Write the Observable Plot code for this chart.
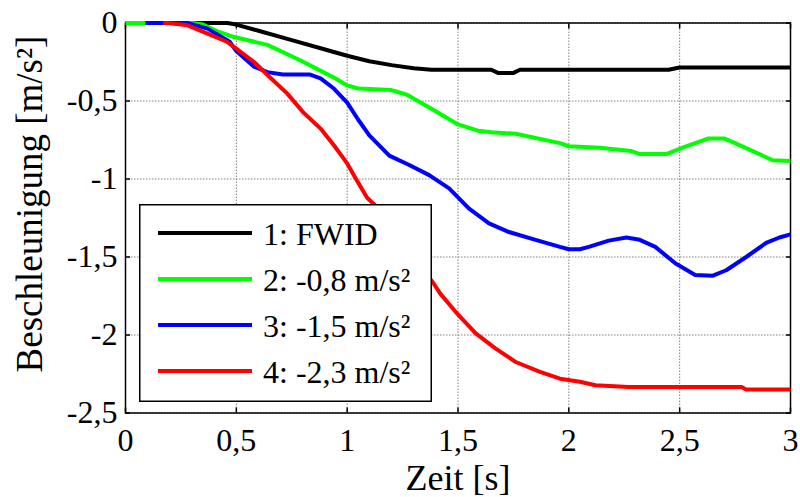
<!DOCTYPE html>
<html>
<head>
<meta charset="utf-8">
<script src="https://cdn.jsdelivr.net/npm/d3@7"></script>
<script src="https://cdn.jsdelivr.net/npm/@observablehq/plot@0.6"></script>
<style>
  body { margin: 0; background: #fff; }
  #wrap { position: relative; width: 800px; height: 497px; }
  #legend { position: absolute; left: 139px; top: 204px; }
</style>
</head>
<body>
<div id="wrap"></div>
<script>
// Tick values
const xTicks = [0, 0.5, 1, 1.5, 2, 2.5, 3];
const yTicks = [0, -0.5, -1, -1.5, -2, -2.5];

// Series labels and colours
const seriesNames = ["1: FWID", "2: -0,8 m/s²", "3: -1,5 m/s²", "4: -2,3 m/s²"];
const seriesColors = ["#000000", "#00ff00", "#0000ff", "#ff0000"];

// 1: FWID (black)
const t1 = [0, 0.46, 0.5, 0.6, 0.75, 0.9, 1.0, 1.1, 1.2, 1.3, 1.38, 1.65, 1.68, 1.75, 1.78, 2.45, 2.5, 3.0];
const a1 = [0, 0, -0.01, -0.05, -0.11, -0.17, -0.21, -0.245, -0.27, -0.29, -0.30, -0.30, -0.32, -0.32, -0.30, -0.30, -0.285, -0.285];

// 2: -0,8 m/s² (green)
const t2 = [0, 0.3, 0.35, 0.41, 0.49, 0.64, 0.79, 0.94, 1.0, 1.05, 1.2, 1.27, 1.38, 1.5, 1.59, 1.65, 1.76, 1.96, 2.0, 2.14, 2.28, 2.32, 2.44, 2.51, 2.63, 2.70, 2.75, 2.92, 3.0];
const a2 = [0, 0, -0.01, -0.05, -0.09, -0.14, -0.24, -0.35, -0.40, -0.42, -0.43, -0.46, -0.55, -0.65, -0.69, -0.70, -0.71, -0.77, -0.79, -0.80, -0.82, -0.84, -0.84, -0.80, -0.74, -0.74, -0.77, -0.88, -0.885];

// 3: -1,5 m/s² (blue)
const t3 = [0.09, 0.28, 0.37, 0.47, 0.5, 0.58, 0.64, 0.71, 0.83, 0.88, 0.94, 1.0, 1.05, 1.1, 1.19, 1.28, 1.37, 1.46, 1.55, 1.64, 1.73, 1.85, 1.96, 2.0, 2.05, 2.09, 2.18, 2.26, 2.32, 2.39, 2.48, 2.57, 2.65, 2.71, 2.80, 2.89, 2.95, 3.0];
const a3 = [0, 0, -0.036, -0.12, -0.18, -0.28, -0.315, -0.33, -0.33, -0.355, -0.42, -0.51, -0.62, -0.72, -0.85, -0.91, -0.975, -1.06, -1.19, -1.285, -1.34, -1.39, -1.435, -1.45, -1.45, -1.435, -1.395, -1.375, -1.39, -1.435, -1.54, -1.615, -1.62, -1.585, -1.50, -1.41, -1.375, -1.355];

// 4: -2,3 m/s² (red)
const t4 = [0.17, 0.19, 0.28, 0.37, 0.46, 0.5, 0.58, 0.65, 0.73, 0.8, 0.88, 0.94, 1.0, 1.04, 1.09, 1.12, 1.2, 1.3, 1.39, 1.42, 1.49, 1.58, 1.67, 1.76, 1.87, 1.96, 2.05, 2.12, 2.27, 2.78, 2.80, 3.0];
const a4 = [0, 0, -0.015, -0.068, -0.122, -0.164, -0.25, -0.346, -0.453, -0.57, -0.677, -0.784, -0.90, -1.0, -1.12, -1.16, -1.31, -1.50, -1.67, -1.735, -1.853, -1.99, -2.087, -2.173, -2.237, -2.28, -2.30, -2.322, -2.333, -2.333, -2.35, -2.35];

const times = [t1, t2, t3, t4];
const values = [a1, a2, a3, a4];
const series = times.map((ts, i) => ts.map((t, j) => ({t, a: values[i][j]})));

const fmt = d => String(d).replace(".", ",");
const font = '"Liberation Serif", "Times New Roman", serif';
const gridStyle = {stroke: "#808080", strokeOpacity: 1, strokeWidth: 1, strokeDasharray: "1.5,1.5"};

const chart = Plot.plot({
  width: 800,
  height: 497,
  marginLeft: 125,
  marginRight: 10,
  marginTop: 22.5,
  marginBottom: 84.5,
  style: {fontFamily: font, background: "white", color: "black"},
  x: {domain: [0, 3]},
  y: {domain: [-2.5, 0]},
  marks: [
    Plot.gridX(xTicks, gridStyle),
    Plot.gridY(yTicks, gridStyle),
    Plot.frame({stroke: "black", strokeWidth: 1.5}),
    Plot.axisX(xTicks, {anchor: "bottom", tickSize: 0, tickPadding: 15, fontSize: 32, tickFormat: fmt, label: null}),
    Plot.axisY(yTicks, {anchor: "left", tickSize: 0, tickPadding: 8, fontSize: 32, tickFormat: fmt, label: null}),
    Plot.axisX(xTicks, {anchor: "bottom", tickSize: -5, tickPadding: 0, tickFormat: () => "", label: null, strokeWidth: 1.5}),
    Plot.axisX(xTicks, {anchor: "top", tickSize: -5, tickPadding: 0, tickFormat: () => "", label: null, strokeWidth: 1.5}),
    Plot.axisY(yTicks, {anchor: "left", tickSize: -5, tickPadding: 0, tickFormat: () => "", label: null, strokeWidth: 1.5}),
    Plot.axisY(yTicks, {anchor: "right", tickSize: -5, tickPadding: 0, tickFormat: () => "", label: null, strokeWidth: 1.5}),
    ...series.map((s, i) => Plot.line(s, {x: "t", y: "a", stroke: seriesColors[i], strokeWidth: 4, strokeLinejoin: "round", strokeLinecap: "butt"})),
    Plot.text(["Zeit [s]"], {text: d => d, frameAnchor: "bottom", dy: 65, fontSize: 36, textAnchor: "middle", lineAnchor: "middle"}),
    Plot.text(["Beschleunigung [m/s²]"], {text: d => d, frameAnchor: "left", dx: -95, dy: -14, rotate: -90, fontSize: 37, textAnchor: "middle", lineAnchor: "middle"})
  ]
});

const wrap = document.getElementById("wrap");
wrap.appendChild(chart);

// Legend box (inside the axes, like MATLAB)
const lw = 293, lh = 198;
const leg = d3.create("svg").attr("id", "legend").attr("width", lw).attr("height", lh)
  .style("font-family", font);
leg.append("rect").attr("x", 0.75).attr("y", 0.75).attr("width", lw - 1.5).attr("height", lh - 1.5)
  .attr("fill", "white").attr("stroke", "black").attr("stroke-width", 1.5);
seriesNames.forEach((name, i) => {
  const cy = 29 + i * 46;
  leg.append("line").attr("x1", 19).attr("x2", 113).attr("y1", cy).attr("y2", cy)
    .attr("stroke", seriesColors[i]).attr("stroke-width", 4);
  leg.append("text").attr("x", 124).attr("y", cy + 12).attr("font-size", 32).attr("fill", "black").text(name);
});
wrap.appendChild(leg.node());
</script>
</body>
</html>
